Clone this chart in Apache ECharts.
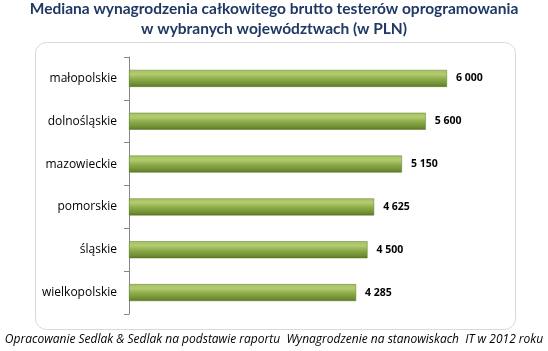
<!DOCTYPE html>
<html>
<head>
<meta charset="utf-8">
<script src="https://cdn.jsdelivr.net/npm/echarts@6/dist/echarts.min.js"></script>
<style>
  html, body { margin: 0; padding: 0; background: #fff; }
  #chart { width: 548px; height: 351px; }
</style>
</head>
<body>
<div id="chart"></div>
<script>
var categories = ['małopolskie', 'dolnośląskie', 'mazowieckie', 'pomorskie', 'śląskie', 'wielkopolskie'];
var values = [6000, 5600, 5150, 4625, 4500, 4285];

(function () {
    var mychart = echarts.init(document.getElementById('chart'));

    var fmt = function (v) {
        return String(v).replace(/\B(?=(\d{3})+(?!\d))/g, ' ');
    };

    var option = {
        animation: false,
        graphic: [
            {
                type: 'rect',
                shape: { x: 35.5, y: 42.5, width: 480, height: 287, r: 11 },
                style: { fill: '#fff', stroke: '#d9d9d9', lineWidth: 1 },
                z: -10
            },
            {
                type: 'text',
                left: 'center',
                top: 1,
                style: {
                    text: 'Mediana wynagrodzenia całkowitego brutto testerów oprogramowania',
                    font: 'bold 15.5px Lato',
                    fill: '#1f3864'
                }
            },
            {
                type: 'text',
                left: 'center',
                top: 21,
                style: {
                    text: 'w wybranych województwach (w PLN)',
                    font: 'bold 15.5px Lato',
                    fill: '#1f3864'
                }
            },
            {
                type: 'text',
                left: 'center',
                top: 334,
                style: {
                    text: 'Opracowanie Sedlak & Sedlak na podstawie raportu  Wynagrodzenie na stanowiskach  IT w 2012 roku',
                    font: 'italic 12px "Open Sans"',
                    fill: '#000'
                }
            }
        ],
        grid: { left: 129, right: 48, top: 57, bottom: 37 },
        xAxis: {
            type: 'value',
            min: 0,
            max: 7000,
            show: false
        },
        yAxis: {
            type: 'category',
            inverse: true,
            data: categories,
            axisLine: { show: true, lineStyle: { color: '#868686' } },
            axisTick: { show: true, length: 5, lineStyle: { color: '#868686' } },
            axisLabel: {
                color: '#000',
                fontFamily: 'Open Sans',
                fontSize: 12,
                margin: 12
            }
        },
        series: [
            {
                type: 'bar',
                data: values,
                barWidth: 17,
                itemStyle: {
                    color: new echarts.graphic.LinearGradient(0, 0, 0, 1, [
                        { offset: 0, color: '#a3c061' },
                        { offset: 0.25, color: '#b2cd70' },
                        { offset: 0.55, color: '#8caa48' },
                        { offset: 0.85, color: '#6f8e34' },
                        { offset: 1, color: '#55731f' }
                    ]),
                    borderColor: '#5f7d28',
                    borderWidth: 0.5
                },
                label: {
                    show: true,
                    position: 'right',
                    distance: 9,
                    color: '#000',
                    fontFamily: 'Open Sans',
                    fontWeight: 'bold',
                    fontSize: 10.5,
                    formatter: function (p) { return fmt(p.value); }
                }
            }
        ]
    };
    mychart.setOption(option);
})();
</script>
</body>
</html>
